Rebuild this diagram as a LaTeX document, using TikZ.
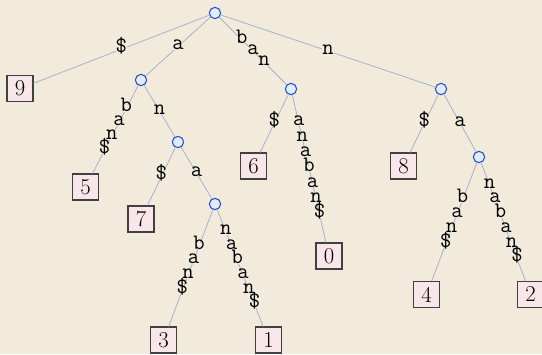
\documentclass[tikz,border=0pt]{standalone}
\usetikzlibrary{calc}
\definecolor{bg}{RGB}{242,235,220}
\definecolor{edgec}{RGB}{165,178,206}
\definecolor{nodeb}{RGB}{35,80,200}
\definecolor{nodef}{RGB}{228,235,248}
\definecolor{leaff}{RGB}{248,230,234}
\tikzset{
 inode/.style={circle,draw=nodeb,fill=nodef,line width=0.8pt,minimum size=8.5pt,inner sep=0pt},
 leaf/.style={rectangle,draw=black!75,fill=leaff,line width=0.8pt,minimum size=19.5pt,inner sep=0pt,font=\fontsize{17}{17}\selectfont},
 tedge/.style={draw=edgec,line width=0.6pt},
 lab/.style={font=\ttfamily\fontsize{16.5}{16.5}\selectfont,inner sep=0pt,text height=1.1ex,text depth=0pt,fill=bg}
}
\newcommand\elab[4]{%
  \draw[tedge] (#1) -- (#2) coordinate[midway] (#1#2m);
  \foreach \c [count=\i] in {#4} {
    \pgfmathsetmacro\off{(\i-(#3+1)/2)*11.8}
    \node[lab] (#1#2l\i) at ($(#1#2m)!\off pt!(#2)$) {\c};
  }
}
\begin{document}
\begin{tikzpicture}[x=0.75pt,y=-0.75pt]
\fill[bg] (0,0) rectangle (542,354);
\useasboundingbox (0,0) rectangle (542,354);
% internal nodes
\node[inode] (r) at (215,13) {};
\node[inode] (A) at (141,80) {};
\node[inode] (AN) at (178,142) {};
\node[inode] (ANA) at (215,204) {};
\node[inode] (BAN) at (291,89) {};
\node[inode] (N) at (441,89) {};
\node[inode] (NA) at (479,157) {};
% leaves
\node[leaf] (l9) at (20,88.5) {9};
\node[leaf] (l5) at (85.5,187) {5};
\node[leaf] (l7) at (141,219) {7};
\node[leaf] (l3) at (163.5,340) {3};
\node[leaf] (l1) at (268.5,340) {1};
\node[leaf] (l6) at (253.5,166) {6};
\node[leaf] (l0) at (329,256) {0};
\node[leaf] (l8) at (403.5,166) {8};
\node[leaf] (l4) at (426.5,294.5) {4};
\node[leaf] (l2) at (530.5,294.5) {2};
% edges with labels
\elab{r}{l9}{1}{\$}
\elab{r}{A}{1}{a}
\elab{r}{BAN}{3}{b,a,n}
\elab{r}{N}{1}{n}
\elab{A}{l5}{4}{b,a,n,\$}
\elab{A}{AN}{1}{n}
\elab{AN}{l7}{1}{\$}
\elab{AN}{ANA}{1}{a}
\elab{ANA}{l3}{4}{b,a,n,\$}
\elab{ANA}{l1}{6}{n,a,b,a,n,\$}
\elab{BAN}{l6}{1}{\$}
\elab{BAN}{l0}{7}{a,n,a,b,a,n,\$}
\elab{N}{l8}{1}{\$}
\elab{N}{NA}{1}{a}
\elab{NA}{l4}{4}{b,a,n,\$}
\elab{NA}{l2}{6}{n,a,b,a,n,\$}
\end{tikzpicture}
\end{document}
